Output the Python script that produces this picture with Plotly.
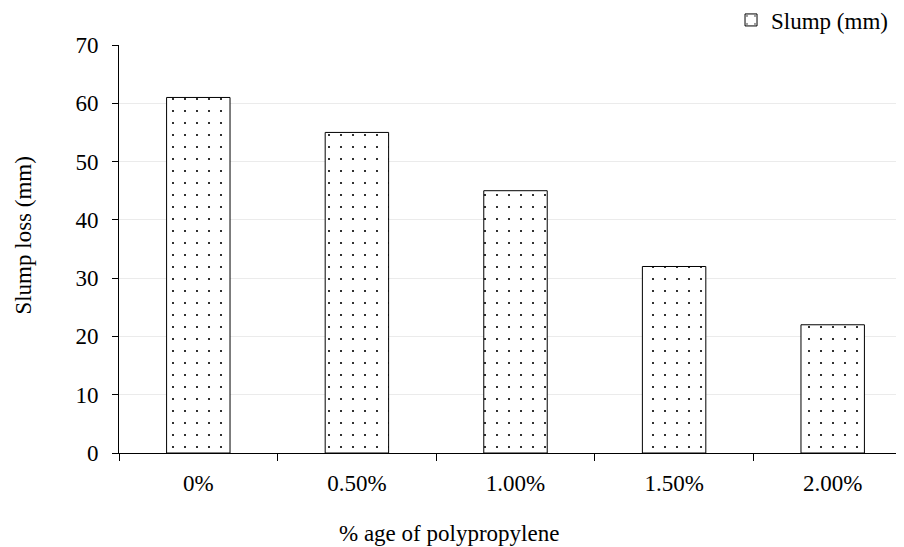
import plotly.graph_objects as go

categories = ["0%", "0.50%", "1.00%", "1.50%", "2.00%"]
slump = [61, 55, 45, 32, 22]
y_ticks = [0, 10, 20, 30, 40, 50, 60, 70]

FONT = "Liberation Serif"

fig = go.Figure()
fig.add_trace(go.Bar(
    x=categories, y=slump, name="Slump (mm)", width=0.4,
    marker=dict(color="white", line=dict(color="black", width=1),
                pattern=dict(shape=".", size=12, solidity=0.025,
                             fgcolor="black", bgcolor="white", fillmode="replace")),
    showlegend=True,
))

fig.update_layout(
    width=904, height=547,
    margin=dict(l=111, r=0, t=37, b=102, autoexpand=False),
    paper_bgcolor="white", plot_bgcolor="white",
    font=dict(family=FONT, size=23, color="black"),
    showlegend=True,
    legend=dict(xref="container", yref="container",
                x=0.979, xanchor="right", y=1 - 12 / 547, yanchor="middle",
                font=dict(family=FONT, size=23), itemwidth=30,
                bgcolor="rgba(0,0,0,0)"),
    xaxis=dict(range=[-0.5, 4.5], tickson="boundaries", ticks="outside", ticklen=7,
               tickcolor="black", showline=True, linecolor="black", linewidth=1,
               showgrid=False, automargin=False, ticklabelstandoff=9,
               tickfont=dict(family=FONT, size=23)),
    yaxis=dict(range=[0, 70], tickvals=y_ticks, ticks="outside", ticklen=6,
               tickcolor="black", showline=True, linecolor="black", linewidth=1,
               showgrid=True, gridcolor="#ebebeb", zeroline=False, automargin=False,
               ticklabelstandoff=9,
               tickfont=dict(family=FONT, size=23)),
    bargap=0.6,
    annotations=[
        dict(text="% age of polypropylene", xref="paper", yref="paper",
             x=0.416, y=-0.197, xanchor="center", yanchor="middle", showarrow=False,
             font=dict(family=FONT, size=23)),
        dict(text="Slump loss (mm)", xref="paper", yref="paper", textangle=-90,
             x=-0.121, y=0.533, xanchor="center", yanchor="middle", showarrow=False,
             font=dict(family=FONT, size=23)),
    ],
)

fig.write_html("out.html")
